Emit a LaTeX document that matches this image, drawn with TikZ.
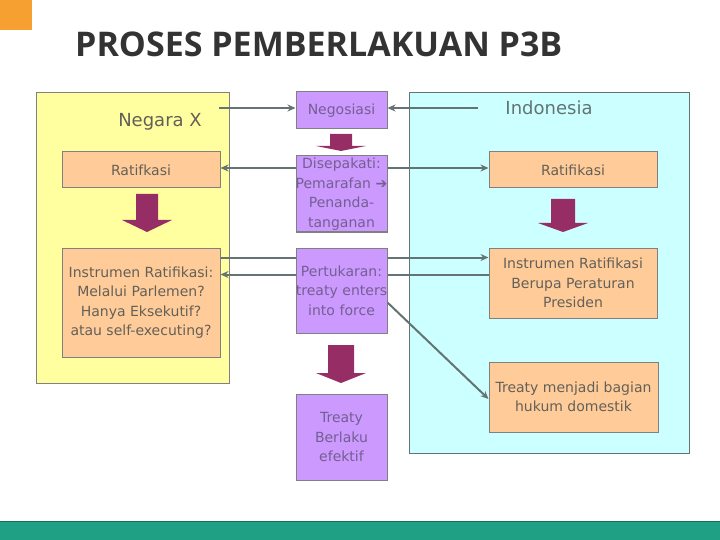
\documentclass[tikz,border=0pt]{standalone}
\usepackage{fontspec}
\usepackage{xcolor}
\usetikzlibrary{arrows.meta}
\setmainfont{DejaVu Sans}
\newfontfamily\titlefont{Open Sans}

\definecolor{orangesq}{RGB}{245,160,48}
\definecolor{titlegray}{RGB}{51,51,51}
\definecolor{panelyellow}{RGB}{255,255,160}
\definecolor{panelcyan}{RGB}{204,255,255}
\definecolor{peach}{RGB}{255,204,153}
\definecolor{lilac}{RGB}{204,153,255}
\definecolor{maroonarrow}{RGB}{150,45,100}
\definecolor{boxline}{RGB}{128,128,128}
\definecolor{connline}{RGB}{100,115,115}
\definecolor{otext}{RGB}{100,96,88}
\definecolor{ptext}{RGB}{115,95,145}
\definecolor{footteal}{RGB}{31,160,133}

\begin{document}
\begin{tikzpicture}[x=1pt,y=-1pt,
  body/.style={font=\fontsize{14}{19.5}\selectfont,align=center,inner sep=0pt},
  obox/.style={body,draw=boxline,line width=1pt,fill=peach,text=otext},
  pbox/.style={body,draw=boxline,line width=1pt,fill=lilac,text=ptext,text width=91pt,minimum width=91pt},
  conn/.style={draw=connline,line width=2pt,-{Stealth[length=8pt,width=7pt]}},
  fatarrow/.style={fill=maroonarrow}]
\useasboundingbox (0,0) rectangle (720,540);
\fill[orangesq] (0,0) rectangle (32,30);
\node[anchor=base west,inner sep=0pt,text=titlegray,font=\titlefont\bfseries\fontsize{34}{40}\selectfont] (title) at (75,57) {PROSES PEMBERLAKUAN P3B};
% panels
\draw[draw=boxline,fill=panelyellow] (36,92) rectangle (229,383);
\draw[draw=connline,fill=panelcyan] (409,92) rectangle (689,453);
\node[font=\fontsize{18}{22}\selectfont,text=otext] (negX) at (160,122) {Negara X};
\node[font=\fontsize{18}{22}\selectfont,text=connline] (indo) at (549,108) {Indonesia};
% left and right columns
\node[obox,minimum width=158pt,minimum height=36pt] (ratL) at (141,170) {Ratifkasi};
\node[obox,minimum width=158pt,minimum height=109pt] (instrL) at (141,302.5) {Instrumen Ratifikasi:\\Melalui Parlemen?\\Hanya Eksekutif?\\atau self-executing?};
\node[obox,minimum width=168pt,minimum height=36pt] (ratR) at (573,170) {Ratifikasi};
\node[obox,minimum width=168pt,minimum height=70pt] (instrR) at (573,283) {Instrumen Ratifikasi\\Berupa Peraturan\\Presiden};
\node[obox,minimum width=169pt,minimum height=70pt] (treatyR) at (573.5,397) {Treaty menjadi bagian\\hukum domestik};
\draw[conn] ([yshift=-10pt]instrL.north east) -- ([yshift=-10pt]instrR.north west);
\draw[conn] ([yshift=-27pt]instrR.north west) -- ([yshift=-27pt]instrL.north east);
% middle column
\node[pbox,minimum height=37pt] (nego) at (341.5,110.5) {Negosiasi};
\node[pbox,minimum height=76pt] (dise) at (341.5,194) {Disepakati:\\\makebox[0pt]{Pemarafan ➔}\\Penanda-\\tanganan};
\node[pbox,minimum height=85pt] (pert) at (341.5,290.5) {Pertukaran:\\\makebox[0pt]{treaty enters}\\into force};
\node[pbox,minimum height=86pt] (treatyM) at (341.5,437) {Treaty\\Berlaku\\efektif};
% connectors
\coordinate (fromX) at (219,108);
\coordinate (fromID) at (478,108);
\draw[conn] (fromX) -- (fromX -| nego.west);
\draw[conn] (fromID) -- (fromID -| nego.east);
\draw[conn] ([yshift=2pt]ratL.east -| dise.west) -- ([yshift=2pt]ratL.east);
\draw[conn] ([yshift=2pt]ratR.west -| dise.east) -- ([yshift=2pt]ratR.west);
\draw[conn] ([yshift=-12pt]pert.east) -- ([yshift=-2pt]treatyR.west);
% fat arrows
\fill[fatarrow] (136,194) -- (158,194) -- (158,220) -- (172,220) -- (147,232) -- (122,220) -- (136,220) -- cycle;
\fill[fatarrow] (551,199) -- (575,199) -- (575,223) -- (588,223) -- (563,232) -- (538,223) -- (551,223) -- cycle;
\fill[fatarrow] (330,134) -- (352,134) -- (352,146) -- (366,146) -- (341,151) -- (316,146) -- (330,146) -- cycle;
\fill[fatarrow] (328,345) -- (354,345) -- (354,373) -- (366,373) -- (341,383) -- (316,373) -- (328,373) -- cycle;
% footer
\fill[footteal] (0,521) rectangle (720,540);
\draw[footteal!70!black,line width=1pt] (0,521) -- (720,521);
\end{tikzpicture}
\end{document}
